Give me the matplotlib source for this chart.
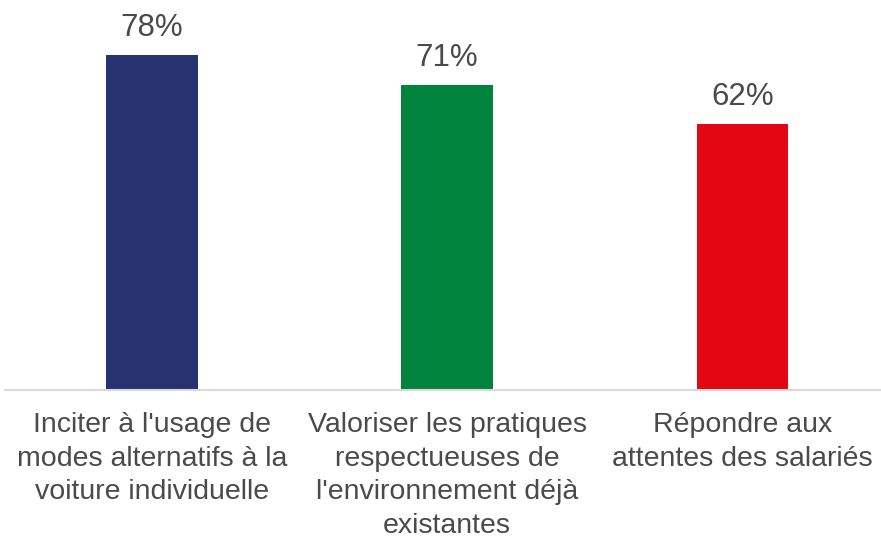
import matplotlib
matplotlib.use("Agg")
import matplotlib.pyplot as plt

categories = ["Inciter à l'usage de\nmodes alternatifs à la\nvoiture individuelle",
              "Valoriser les pratiques\nrespectueuses de\nl'environnement déjà\nexistantes",
              "Répondre aux\nattentes des salariés"]
values = [78, 71, 62]
labels = ["78%", "71%", "62%"]
colors = ["#263370", "#00843D", "#E30613"]

plt.rcParams['font.family'] = ['Liberation Sans', 'DejaVu Sans']
fig = plt.figure(figsize=(8.81, 5.38), dpi=100)
ax = fig.add_axes([5/881, 148/538, 876/881, 390/538])
x = list(range(len(values)))
bars = ax.bar(x, values, width=0.31, color=colors, zorder=2)
for xi, v, lab in zip(x, values, labels):
    ax.annotate(lab, (xi, v), xytext=(0, 8.5), textcoords='offset points',
                ha='center', va='bottom', fontsize=22.5, color='#4a4a4a')
ax.set_xlim(-0.498, 2.47)
ax.set_ylim(0, 90.8)
ax.set_xticks(x)
ax.set_xticklabels(categories, fontsize=20.5, color='#4a4a4a', linespacing=1.38)
ax.tick_params(axis='x', length=0, pad=16)
ax.set_yticks([])
for s in ['top', 'right', 'left']:
    ax.spines[s].set_visible(False)
ax.spines['bottom'].set_color('#D9D9D9')
ax.spines['bottom'].set_linewidth(1.5)
fig.savefig("out.png", dpi=100)
